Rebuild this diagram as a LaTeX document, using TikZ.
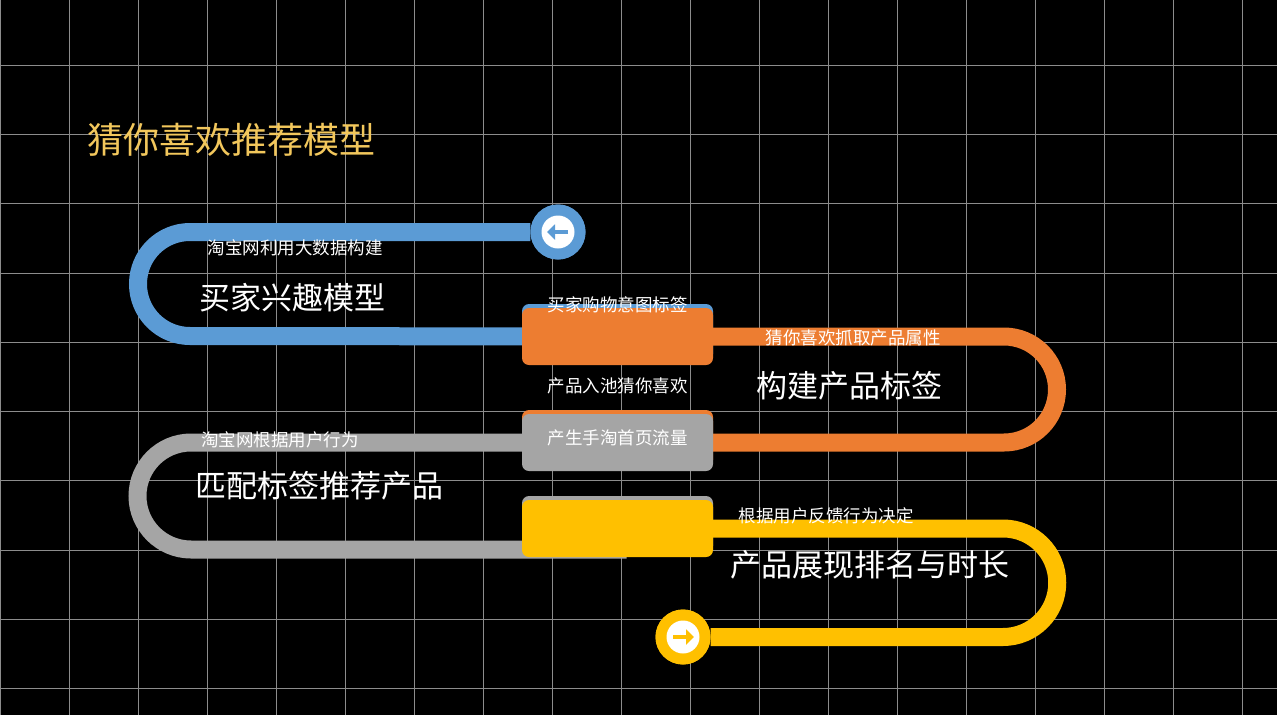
\documentclass[tikz,border=0pt]{standalone}
\usepackage{fontspec}
\setmainfont{Noto Sans CJK SC}
\usetikzlibrary{positioning,arrows.meta,calc}
\definecolor{cblue}{HTML}{5B9BD5}
\definecolor{corange}{HTML}{ED7D31}
\definecolor{cgrey}{HTML}{A5A5A5}
\definecolor{cyellow}{HTML}{FFC000}
\definecolor{ctitle}{HTML}{F2C75C}
\tikzset{
  track/.style={line width=18pt},
  stepbox/.style={rounded corners=7pt, minimum width=191pt, minimum height=57pt, inner sep=0pt},
  small/.style={text=white, font=\fontsize{17.5pt}{17.5pt}\selectfont},
  big/.style={text=white, font=\fontsize{31pt}{31pt}\selectfont, anchor=west},
}
\begin{document}
\begin{tikzpicture}[x=1pt,y=-1pt]
  \fill[black] (0,0) rectangle (1277,715);
  \useasboundingbox (0,0) rectangle (1277,715);

  % grid
  \foreach \gx in {0,...,18} \draw[white!55!black, line width=0.8pt] (69*\gx,0) -- (69*\gx,715);
  \foreach \gy in {0,...,9} \draw[white!55!black, line width=0.8pt] (0,65+69.3*\gy) -- (1277,65+69.3*\gy);

  % title
  \node[text=ctitle, font=\fontsize{36pt}{36pt}\selectfont, anchor=west] (title) at (84,140) {猜你喜欢推荐模型};

  % boxes
  \coordinate (b1) at (617.5,336.5);
  \coordinate (b2) at (617.5,442.5);
  \coordinate (b3) at (617.5,528.5);
  \node[fill=cblue, stepbox] at ($(b1)+(0,-4)$) {};
  \node[fill=corange, stepbox] at ($(b2)+(0,-4)$) {};
  \node[fill=cgrey, stepbox] at ($(b3)+(0,-4)$) {};

  % tracks
  \node[circle, fill=cblue, minimum size=55pt] (start) at (558,232) {};
  \node[circle, fill=cyellow, minimum size=55pt] (stop) at (683,637) {};
  \draw[track, cblue] (start) -- (190,232) arc (270:90:52) -- (b1);
  \draw[track, corange] (b1) -- (1004,336.5) arc (-90:90:53) -- (b2);
  \draw[track, cgrey] (b2) -- (191,442.5) arc (270:90:53.5) -| (b3);
  \draw[track, cyellow] (b3) -- (1003,528.5) arc (-90:90:54.25) -- (stop);

  \node[fill=corange, stepbox] (box1) at (b1) {};
  \node[fill=cgrey, stepbox] (box2) at (b2) {};
  \node[fill=cyellow, stepbox] (box3) at (b3) {};

  % arrow icons
  \node[circle, fill=cblue, minimum size=55pt] (start) at (558,232) {};
  \node[circle, fill=cyellow, minimum size=55pt] (stop) at (683,637) {};
  \node[circle, fill=white, minimum size=33pt] (starti) at (start) {};
  \node[circle, fill=white, minimum size=33pt] (stopi) at (stop) {};
  \draw[cblue, line width=4.5pt, -{Triangle[width=15pt,length=8pt]}] ($(starti)+(10,0)$) -- ($(starti)+(-11,0)$);
  \draw[cyellow, line width=4.5pt, -{Triangle[width=15pt,length=8pt]}] ($(stopi)+(-10,0)$) -- ($(stopi)+(11,0)$);

  % labels
  \node[small] (l1) at (295,248) {淘宝网利用大数据构建};
  \node[big] (t1) at (196,298) {买家兴趣模型};
  \node[small] (l2) at (617.5,305) {买家购物意图标签};
  \node[small] (l3) at (853,338) {猜你喜欢抓取产品属性};
  \node[big] (t2) at (753,386) {构建产品标签};
  \node[small] (l4) at (617.5,386) {产品入池猜你喜欢};
  \node[small] (l5) at (280,440) {淘宝网根据用户行为};
  \node[small] (l6) at (617.5,438) {产生手淘首页流量};
  \node[big] (t3) at (192,486) {匹配标签推荐产品};
  \node[small] (l7) at (826,516) {根据用户反馈行为决定};
  \node[big] (t4) at (727,565) {产品展现排名与时长};
\end{tikzpicture}
\end{document}
